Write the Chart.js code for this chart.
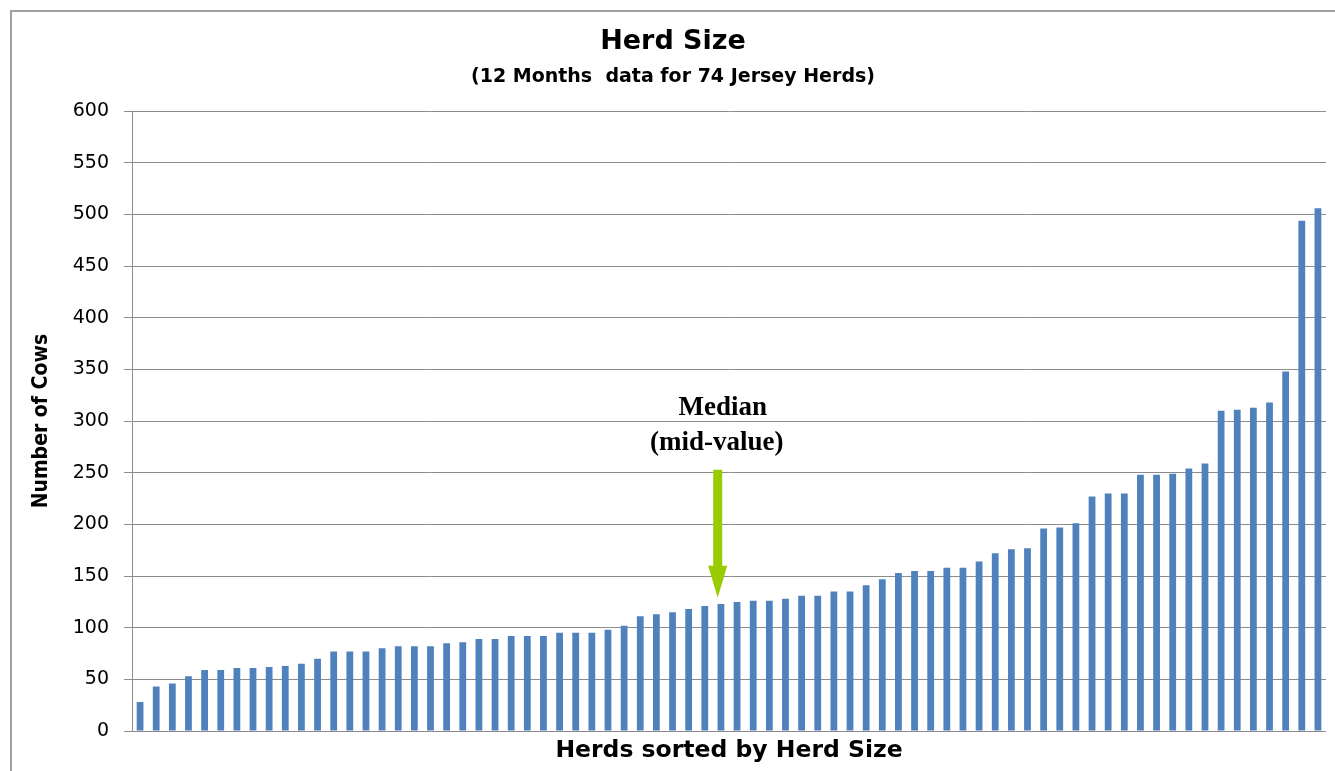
<!DOCTYPE html>
<html>
<head>
<meta charset="utf-8">
<script src="https://cdn.jsdelivr.net/npm/chart.js@4"></script>
<style>
  html, body { margin: 0; padding: 0; background: #fff; overflow: hidden; }
  #wrap { position: absolute; left: 0; top: 0; width: 1335px; height: 771px; }
</style>
</head>
<body>
<div id="wrap"><canvas id="herdChart"></canvas></div>
<script>
// herds, already sorted smallest to largest
const herdLabels = [1,2,3,4,5,6,7,8,9,10,11,12,13,14,15,16,17,18,19,20,21,22,23,24,25,
  26,27,28,29,30,31,32,33,34,35,36,37,38,39,40,41,42,43,44,45,46,47,48,49,50,
  51,52,53,54,55,56,57,58,59,60,61,62,63,64,65,66,67,68,69,70,71,72,73,74];

const cowCounts = [28, 43, 46, 53, 59, 59, 61, 61, 62, 63, 65, 70, 77, 77, 77, 80, 82, 82, 82, 85,
  86, 89, 89, 92, 92, 92, 95, 95, 95, 98, 102, 111, 113, 115, 118, 121, 123, 125, 126, 126,
  128, 131, 131, 135, 135, 141, 147, 153, 155, 155, 158, 158, 164, 172, 176, 177, 196, 197, 201, 227,
  230, 230, 248, 248, 249, 254, 259, 310, 311, 313, 318, 348, 494, 506];

const yTicks = [0, 50, 100, 150, 200, 250, 300, 350, 400, 450, 500, 550, 600];

// median marker: herd index it sits over, arrow tip / tail values, label values
const medianIndex = 35.8;
const medianArrow = { tip: 129, tail: 253 };
const medianText = [
  { text: 'Median', value: 313, dx: 5 },
  { text: '(mid-value)', value: 279, dx: -1 }
];

// outer chart border, only its top and left edges fall inside the window
const framePlugin = {
  id: 'chartFrame',
  beforeDraw(chart) {
    const { ctx, width, height } = chart;
    ctx.save();
    ctx.strokeStyle = '#a0a0a0';
    ctx.lineWidth = 2;
    ctx.beginPath();
    ctx.moveTo(11, height);
    ctx.lineTo(11, 11);
    ctx.lineTo(width, 11);
    ctx.stroke();
    ctx.restore();
  }
};

const medianPlugin = {
  id: 'medianMarker',
  afterDatasetsDraw(chart) {
    const { ctx, scales: { x, y } } = chart;
    const cx = x.getPixelForValue(medianIndex);
    const tipY = y.getPixelForValue(medianArrow.tip);
    const tailY = y.getPixelForValue(medianArrow.tail);
    const headLen = 32, shaft = 4.5, head = 9.5;

    ctx.save();
    ctx.fillStyle = '#99cc00';
    ctx.beginPath();
    ctx.moveTo(cx - shaft, tailY);
    ctx.lineTo(cx + shaft, tailY);
    ctx.lineTo(cx + shaft, tipY - headLen);
    ctx.lineTo(cx + head, tipY - headLen);
    ctx.lineTo(cx, tipY);
    ctx.lineTo(cx - head, tipY - headLen);
    ctx.lineTo(cx - shaft, tipY - headLen);
    ctx.closePath();
    ctx.fill();

    ctx.fillStyle = '#000';
    ctx.font = 'bold 27px "Liberation Serif", "Times New Roman", serif';
    ctx.textAlign = 'center';
    ctx.textBaseline = 'middle';
    medianText.forEach(t => {
      ctx.fillText(t.text, cx + t.dx, y.getPixelForValue(t.value));
    });
    ctx.restore();
  }
};

const ctx = document.getElementById('herdChart').getContext('2d');
new Chart(ctx, {
  type: 'bar',
  data: {
    labels: herdLabels,
    datasets: [{
      label: 'Number of Cows',
      data: cowCounts,
      backgroundColor: '#4f81bd',
      barPercentage: 0.42,
      categoryPercentage: 1
    }]
  },
  options: {
    responsive: true,
    maintainAspectRatio: false,
    animation: false,
    layout: { padding: { left: 20, right: 9, top: 0, bottom: 0 } },
    plugins: {
      legend: { display: false },
      tooltip: { enabled: false },
      title: {
        display: true,
        text: 'Herd Size',
        color: '#000',
        font: { family: '"DejaVu Sans", sans-serif', size: 27, weight: 'bold' },
        padding: { top: 26, bottom: 0 }
      },
      subtitle: {
        display: true,
        text: '(12 Months  data for 74 Jersey Herds)',
        color: '#000',
        font: { family: '"DejaVu Sans", sans-serif', size: 19, weight: 'bold' },
        padding: { top: 7, bottom: 23 }
      }
    },
    scales: {
      x: {
        grid: { display: false },
        border: { display: false },
        ticks: { display: false },
        title: {
          display: true,
          text: 'Herds sorted by Herd Size',
          color: '#000',
          font: { family: '"DejaVu Sans", sans-serif', size: 23.5, weight: 'bold' },
          padding: { top: 0, bottom: 6 }
        },
        afterFit(scale) { scale.height = 40; }
      },
      y: {
        min: 0,
        max: 600,
        afterBuildTicks(scale) { scale.ticks = yTicks.map(v => ({ value: v })); },
        grid: { color: '#8c8c8c', lineWidth: 1, tickLength: 8, tickColor: '#8c8c8c' },
        border: { display: true, color: '#8c8c8c', width: 1 },
        ticks: {
          color: '#000',
          padding: 15,
          font: { family: '"DejaVu Sans", sans-serif', size: 19 }
        },
        title: {
          display: true,
          text: 'Number of Cows',
          color: '#000',
          font: { family: '"DejaVu Sans Condensed", "DejaVu Sans", sans-serif', size: 21, weight: 'bold' },
          padding: { top: 9, bottom: 0 }
        },
        afterFit(scale) { scale.width = 112; }
      }
    }
  },
  plugins: [framePlugin, medianPlugin]
});
</script>
</body>
</html>
